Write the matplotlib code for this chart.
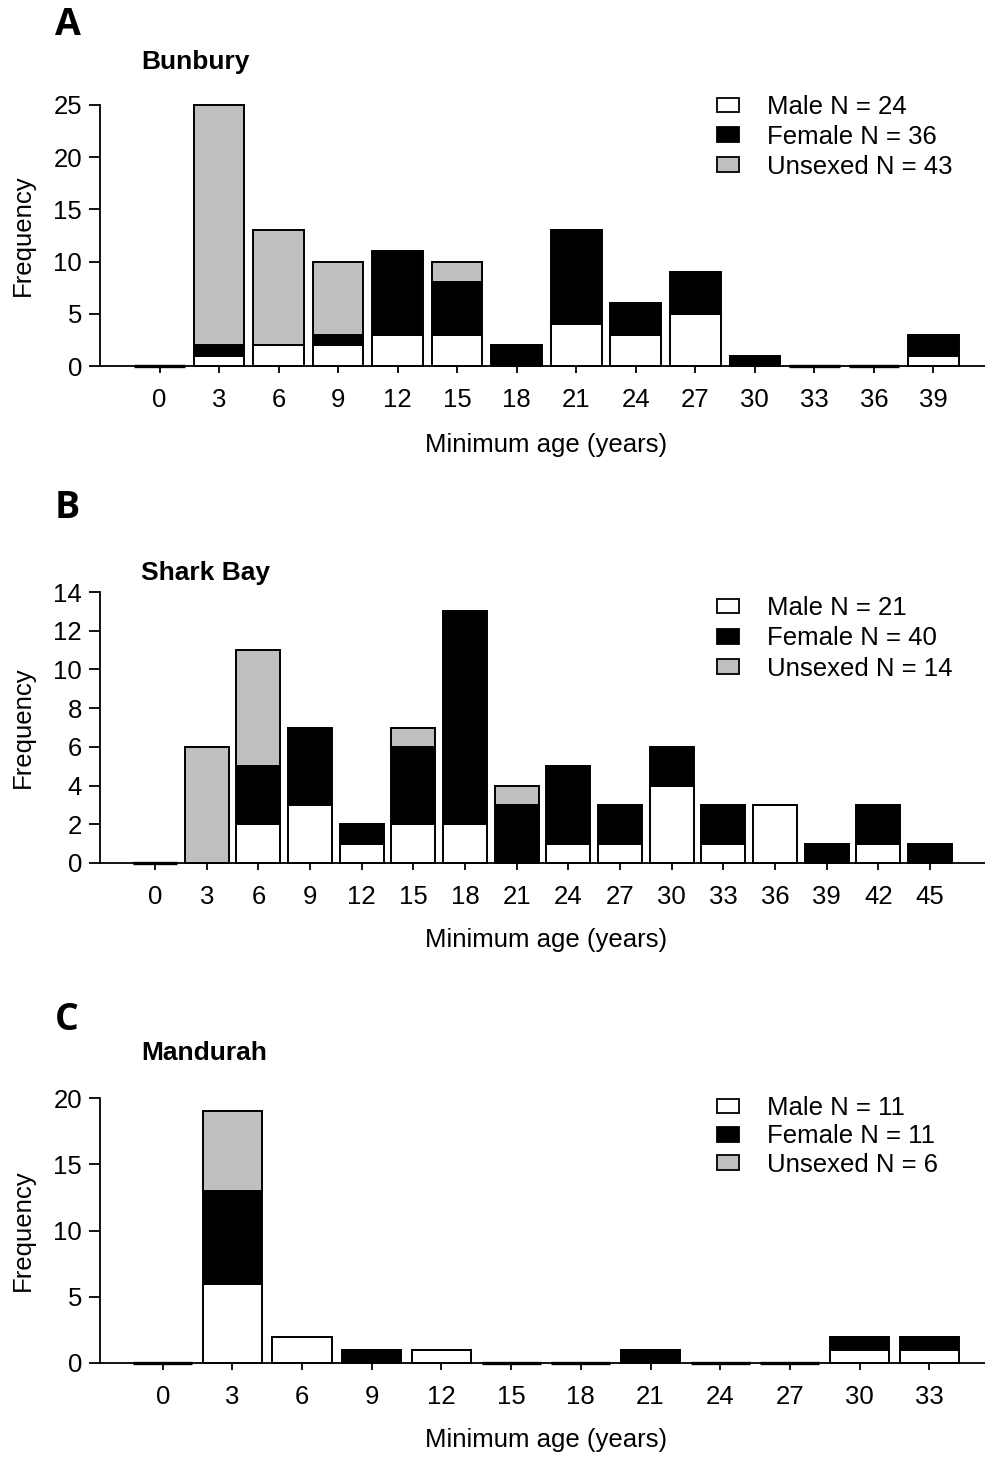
import matplotlib
matplotlib.use("Agg")
import matplotlib.pyplot as plt
from matplotlib.patches import Patch
import numpy as np

plt.rcParams['font.family'] = ['Liberation Sans', 'DejaVu Sans']

# ---- data ----
ages_a = [0, 3, 6, 9, 12, 15, 18, 21, 24, 27, 30, 33, 36, 39]
male_a = [0, 1, 2, 2, 3, 3, 0, 4, 3, 5, 0, 0, 0, 1]
female_a = [0, 1, 0, 1, 8, 5, 2, 9, 3, 4, 1, 0, 0, 2]
unsexed_a = [0, 23, 11, 7, 0, 2, 0, 0, 0, 0, 0, 0, 0, 0]

ages_b = [0, 3, 6, 9, 12, 15, 18, 21, 24, 27, 30, 33, 36, 39, 42, 45]
male_b = [0, 0, 2, 3, 1, 2, 2, 0, 1, 1, 4, 1, 3, 0, 1, 0]
female_b = [0, 0, 3, 4, 1, 4, 11, 3, 4, 2, 2, 2, 0, 1, 2, 1]
unsexed_b = [0, 6, 6, 0, 0, 1, 0, 1, 0, 0, 0, 0, 0, 0, 0, 0]

ages_c = [0, 3, 6, 9, 12, 15, 18, 21, 24, 27, 30, 33]
male_c = [0, 6, 2, 0, 1, 0, 0, 0, 0, 0, 1, 1]
female_c = [0, 7, 0, 1, 0, 0, 0, 1, 0, 0, 1, 1]
unsexed_c = [0, 6, 0, 0, 0, 0, 0, 0, 0, 0, 0, 0]

panel_letters = ['A', 'B', 'C']
sites = ['Bunbury', 'Shark Bay', 'Mandurah']
legend_labels = [
    ['Male N = 24', 'Female N = 36', 'Unsexed N = 43'],
    ['Male N = 21', 'Female N = 40', 'Unsexed N = 14'],
    ['Male N = 11', 'Female N = 11', 'Unsexed N = 6'],
]
ylims = [25, 14, 20]
ysteps = [5, 2, 5]
xlims = [(-3.0, 41.6), (-3.2, 48.2), (-2.7, 35.4)]

W, H = 985, 1458
fig = plt.figure(figsize=(W / 100, H / 100), dpi=100)

def fx(x):
    return x / W

def fy(y):
    return 1 - y / H

# axes pixel boxes: (left, top, right, bottom)
boxes = [(100, 105, 985, 366), (100, 592, 985, 863), (100, 1098, 985, 1363)]
letter_y = [25, 508, 1020]
title_y = [62, 573, 1053]
xlabel_y = [445, 940, 1440]
legend_top = [95, 596, 1096]
legend_spacing = [0.23, 0.25, 0.17]

FS = 18.5
colors = ['white', 'black', '#bfbfbf']
data = [
    (ages_a, male_a, female_a, unsexed_a),
    (ages_b, male_b, female_b, unsexed_b),
    (ages_c, male_c, female_c, unsexed_c),
]

for i, (ages, m, f, u) in enumerate(data):
    l, t, r, b = boxes[i]
    ax = fig.add_axes([fx(l), fy(b), fx(r) - fx(l), fy(t) - fy(b)])
    ages = np.array(ages)
    m = np.array(m); f = np.array(f); u = np.array(u)
    w = 2.55
    kw = dict(width=w, edgecolor='black', linewidth=1.4, zorder=3, clip_on=False)
    ax.bar(ages, m, color=colors[0], **kw)
    ax.bar(ages, f, bottom=m, color=colors[1], **kw)
    ax.bar(ages, u, bottom=m + f, color=colors[2], **kw)
    # empty classes drawn as a flat bar (heavier outline)
    tot = m + f + u
    empty = tot == 0
    ax.bar(ages[empty], tot[empty], width=w, color='black', edgecolor='black',
           linewidth=2.4, zorder=4, clip_on=False)

    ax.set_xlim(*xlims[i])
    ax.set_ylim(0, ylims[i])
    ax.set_xticks(ages)
    ax.set_xticklabels([str(a) for a in ages])
    ax.set_yticks(np.arange(0, ylims[i] + 0.1, ysteps[i]))
    for s in ['top', 'right']:
        ax.spines[s].set_visible(False)
    for s in ['left', 'bottom']:
        ax.spines[s].set_linewidth(1.3)
    ax.tick_params(axis='x', direction='out', length=5, width=1.3, labelsize=FS, pad=11)
    ax.tick_params(axis='y', direction='out', length=8, width=1.3, labelsize=FS, pad=5)
    ax.set_ylabel('Frequency', fontsize=FS, labelpad=13)
    ax.patch.set_alpha(0)

    fig.text(fx(546), fy(xlabel_y[i]), 'Minimum age (years)', fontsize=FS,
             ha='center', va='center')
    fig.text(fx(55), fy(letter_y[i]), panel_letters[i], fontsize=27,
             fontweight='bold', family=['Open Sans', 'DejaVu Sans'],
             ha='left', va='center')
    fig.text(fx(141), fy(title_y[i]), sites[i], fontsize=19,
             fontweight='bold', ha='left', va='center')

    handles = [Patch(facecolor=c, edgecolor='black', linewidth=1.3) for c in colors]
    ax.legend(handles, legend_labels[i], loc='upper left',
              bbox_to_anchor=(fx(717), fy(legend_top[i])),
              bbox_transform=fig.transFigure, frameon=False,
              fontsize=FS, handlelength=0.85, handleheight=0.5,
              handletextpad=1.1, labelspacing=legend_spacing[i], borderpad=0,
              borderaxespad=0)

fig.savefig('out.png', dpi=100)
